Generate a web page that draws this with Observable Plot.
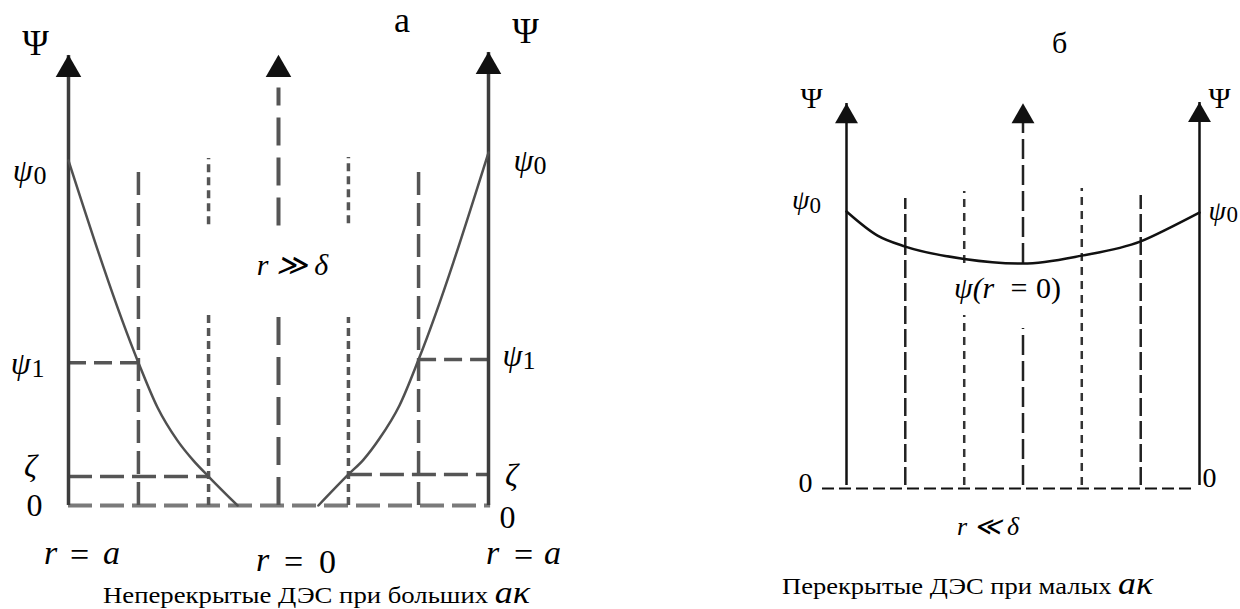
<!DOCTYPE html>
<html><head><meta charset="utf-8">
<script src="https://cdn.jsdelivr.net/npm/d3@7"></script>
<script src="https://cdn.jsdelivr.net/npm/@observablehq/plot@0.6"></script>
<style>
body{margin:0;background:#fff;}
#wrap{position:relative;width:1240px;height:609px;overflow:hidden;font-family:"Liberation Serif","Times New Roman","DejaVu Serif",serif;color:#000;}
#pa,#pb{position:absolute;top:0;}
#pa{left:0;} #pb{left:620px;}
.cap{position:absolute;white-space:nowrap;line-height:1;transform-origin:0 50%;}
.cap i{font-size:31px;}
.head{position:absolute;line-height:1;}
</style></head><body>
<div id="wrap">
  <div id="pa"></div><div id="pb"></div>
  <div class="head" style="left:394px;top:2px;font-size:36px;">а</div>
  <div class="head" style="left:1052px;top:28px;font-size:30px;">б</div>
  <div class="cap" id="capA" data-w="427" style="left:103px;top:577px;font-size:23px;">Неперекрытые ДЭС при больших <i>aκ</i></div>
  <div class="cap" id="capB" data-w="371" style="left:782px;top:568px;font-size:23px;">Перекрытые ДЭС при малых <i>aκ</i></div>
</div>
<script>
// ---------- Panel а (non-overlapping double layers, large aκ) ----------
const aLeftR    = [-1, -0.667, -0.576, -0.481, -0.405, -0.333, -0.195];
const aLeftPsi  = [1.0, 0.414, 0.284, 0.188, 0.130, 0.084, 0];
const aRightR   = [0.19, 0.333, 0.405, 0.481, 0.576, 0.667, 1];
const aRightPsi = [0, 0.090, 0.133, 0.194, 0.290, 0.423, 1.023];
const aLevelsL  = [1.0, 0.414, 0.084];   // ψ0, ψ1, ζ at r = -a
const aLevelsR  = [1.023, 0.423, 0.090]; // ψ0, ψ1, ζ at r = +a
const aAxisR    = [-1, 0, 1];
const aAxisTip  = [1.304, 1.304, 1.313];
const aDashR    = [-0.667, 0.667];
const aDashTop  = [0.98, 0.988];
const aDotR     = [-0.333, 0.333];
const aDotLowTop = [0.559, 0.545];
const aDotUp    = [[0.814, 1.006], [0.817, 1.009]];
const aMidSegs  = [[0, 0.565], [0.81, 1.21]];

// ---------- Panel б (overlapping double layers, small aκ) ----------
const bR   = [-1, -0.824, -0.667, -0.333, 0, 0.333, 0.667, 0.836, 1];
const bPsi = [1, 0.912, 0.872, 0.827, 0.81, 0.839, 0.891, 0.942, 0.996];
const bAxisR   = [-1, 0, 1];
const bAxisTip = [1.394, 1.394, 1.398];
const bLongR   = [-0.667, 0.667];
const bLongTop = [1.047, 1.058];
const bShortSegs = [[-0.333, 0, 0.62], [-0.333, 0.81, 1.073], [0.333, 0, 1.084]];
const bMidSegs = [[0, 0.573], [0.81, 1.325]];
const bBase = [-1.136, 0.977, -0.011];

const FONT = '"Liberation Serif","Times New Roman","DejaVu Serif",serif';
function T(text, x, y, dx, dy, size, italic, anchor) {
  return Plot.text([text], {x: () => x, y: () => y, text: d => d, dx, dy,
    fontSize: size, fontStyle: italic ? "italic" : "normal",
    textAnchor: anchor || "middle", fontFamily: FONT, fill: "#000"});
}
const zip = (a, b) => a.map((v, i) => ({x: v, y: b[i]}));

// ----- build panel а -----
const gA = "#3c3c3c", dA = "#555";
const plotA = Plot.plot({
  width: 620, height: 609,
  x: {domain: [-1, 1], range: [68, 488], axis: null},
  y: {domain: [0, 1], range: [505, 160], axis: null},
  style: {background: "transparent", overflow: "visible", fontFamily: FONT},
  marks: [
    Plot.ruleY([0], {x1: -1, x2: 1.01, stroke: "#7a7a7a", strokeWidth: 4, strokeDasharray: "24,8"}),
    Plot.ruleY([{y: aLevelsL[1], x1: -1, x2: aDashR[0]}, {y: aLevelsR[1], x1: aDashR[1], x2: 1}],
      {y: "y", x1: "x1", x2: "x2", stroke: dA, strokeWidth: 3.5, strokeDasharray: "18,8"}),
    Plot.ruleY([{y: aLevelsL[2], x1: -1, x2: aDotR[0]}, {y: aLevelsR[2], x1: aDotR[1], x2: 1}],
      {y: "y", x1: "x1", x2: "x2", stroke: dA, strokeWidth: 3.5, strokeDasharray: "24,8"}),
    Plot.ruleX(aDashR.map((r, i) => ({x: r, top: aDashTop[i]})),
      {x: "x", y1: 0, y2: "top", stroke: dA, strokeWidth: 3.5, strokeDasharray: "23,8"}),
    Plot.ruleX(aDotR.flatMap((r, i) => [{x: r, a: 0, b: aDotLowTop[i]}, {x: r, a: aDotUp[i][0], b: aDotUp[i][1]}]),
      {x: "x", y1: "a", y2: "b", stroke: dA, strokeWidth: 3.5, strokeDasharray: "8,5"}),
    Plot.ruleX(aMidSegs.map(s => ({x: 0, a: s[0], b: s[1]})),
      {x: "x", y1: "a", y2: "b", stroke: dA, strokeWidth: 4, strokeDasharray: "28,12"}),
    Plot.ruleX([{x: -1, t: aAxisTip[0]}, {x: 1, t: aAxisTip[2]}],
      {x: "x", y1: 0, y2: "t", stroke: gA, strokeWidth: 3.5}),
    Plot.line(zip(aLeftR, aLeftPsi), {x: "x", y: "y", curve: "monotone-x", stroke: "#505050", strokeWidth: 2.5}),
    Plot.line(zip(aRightR, aRightPsi), {x: "x", y: "y", curve: "monotone-x", stroke: "#505050", strokeWidth: 2.5}),
    Plot.dot(zip(aAxisR, aAxisTip), {x: "x", y: "y", symbol: "triangle", r: 9.5, fill: "#111", stroke: "none", dy: 14}),
    T("Ψ", -1, aAxisTip[0], -33, -12, 36, false),
    T("Ψ", 1, aAxisTip[2], 37, -21, 36, false),
    T("ψ", -1, aLevelsL[0], -36, 10, 32, true, "end"),
    T("0", -1, aLevelsL[0], -35, 15, 26, false, "start"),
    T("ψ", 1, aLevelsR[0], 25, 8, 32, true, "start"),
    T("0", 1, aLevelsR[0], 45, 13, 26, false, "start"),
    T("ψ", -1, aLevelsL[1], -38, 1, 32, true, "end"),
    T("1", -1, aLevelsL[1], -37, 6, 26, false, "start"),
    T("ψ", 1, aLevelsR[1], 14, -4, 32, true, "start"),
    T("1", 1, aLevelsR[1], 34, 1, 26, false, "start"),
    T("ζ", -1, aLevelsL[2], -38, -10, 32, true),
    T("ζ", 1, aLevelsR[2], 23, 1, 32, true),
    T("0", -1, 0, -34, 0, 32, false),
    T("0", 1, 0, 19, 12, 32, false),
    // r = a (left)
    T("r", -1, 0, -18, 48, 34, true),
    T("=", -1, 0, 11, 50, 34, false),
    T("a", -1, 0, 43, 48, 34, true),
    // r = 0
    T("r", 0, 0, -16, 55, 34, true),
    T("=", 0, 0, 15, 57, 34, false),
    T("0", 0, 0, 49, 57, 34, false),
    // r = a (right)
    T("r", 1, 0, 4, 48, 34, true),
    T("=", 1, 0, 35, 50, 34, false),
    T("a", 1, 0, 64, 48, 34, true),
    T("r ≫ δ", 0, 0.69, 14, -2, 30, true)
  ]
});
document.getElementById("pa").appendChild(plotA);

// ----- build panel б -----
const k = "#111";
const plotB = Plot.plot({
  width: 620, height: 609,
  x: {domain: [-1, 1], range: [226, 579], axis: null},
  y: {domain: [0, 1], range: [485, 211], axis: null},
  style: {background: "transparent", overflow: "visible", fontFamily: FONT},
  marks: [
    Plot.ruleY([bBase[2]], {x1: bBase[0], x2: bBase[1], stroke: k, strokeWidth: 2, strokeDasharray: "12,5"}),
    Plot.ruleX(bLongR.map((r, i) => ({x: r, t: bLongTop[i]})),
      {x: "x", y1: 0, y2: "t", stroke: "#222", strokeWidth: 2.5, strokeDasharray: "18,5"}),
    Plot.ruleX(bShortSegs.map(s => ({x: s[0], a: s[1], b: s[2]})),
      {x: "x", y1: "a", y2: "b", stroke: "#333", strokeWidth: 2.5, strokeDasharray: "8,6"}),
    Plot.ruleX(bMidSegs.map(s => ({x: 0, a: s[0], b: s[1]})),
      {x: "x", y1: "a", y2: "b", stroke: "#222", strokeWidth: 2.5, strokeDasharray: "20,6"}),
    Plot.ruleX([{x: -1, t: bAxisTip[0]}, {x: 1, t: bAxisTip[2]}],
      {x: "x", y1: 0, y2: "t", stroke: k, strokeWidth: 2.5}),
    Plot.line(zip(bR, bPsi), {x: "x", y: "y", curve: "monotone-x", stroke: k, strokeWidth: 2.5}),
    Plot.dot(zip(bAxisR, bAxisTip), {x: "x", y: "y", symbol: "triangle", r: 8.5, fill: k, stroke: "none", dy: 13}),
    T("Ψ", -1, bAxisTip[0], -35, -5, 30, false),
    T("Ψ", 1, bAxisTip[2], 20, -4, 30, false),
    T("ψ", -1, bPsi[0], -37, -11, 28, true, "end"),
    T("0", -1, bPsi[0], -37, -6, 23, false, "start"),
    T("ψ", 1, bPsi[8], 9, -2, 28, true, "start"),
    T("0", 1, bPsi[8], 27, 2, 23, false, "start"),
    T("0", -1, 0, -41, -2, 28, false),
    T("0", 1, 0, 10, -7, 28, false),
    // ψ(r = 0)
    T("ψ(r", 0, bPsi[4], -69, 25, 30, true, "start"),
    T("=", 0, bPsi[4], -4, 25, 30, false),
    T("0)", 0, bPsi[4], 38, 25, 30, false, "end"),
    T("r ≪ δ", 0, 0, -35, 41, 26, true)
  ]
});
document.getElementById("pb").appendChild(plotB);

// stretch captions to the reference's text width
for (const el of document.querySelectorAll(".cap")) {
  const w = el.getBoundingClientRect().width;
  el.style.transform = `scaleX(${(+el.dataset.w / w).toFixed(3)})`;
}
</script>
</body></html>
